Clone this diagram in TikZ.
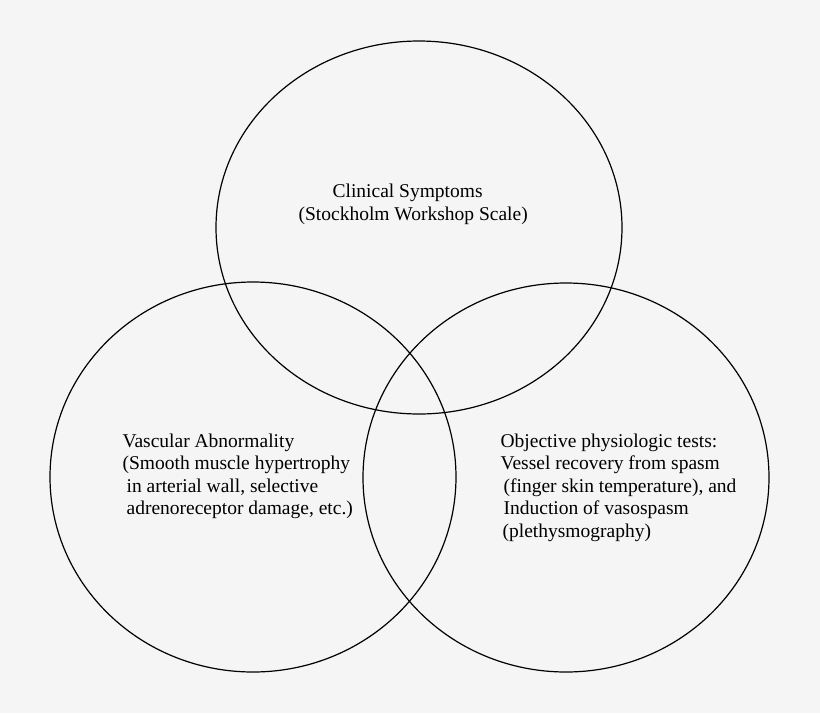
\documentclass[tikz,border=0pt]{standalone}
\usepackage{fontspec}
\setmainfont{Liberation Serif}
\usepackage{tikz}
\usetikzlibrary{positioning, shapes.geometric}
\definecolor{paper}{RGB}{245,245,245}

\begin{document}
\begin{tikzpicture}[x=1pt, y=-1pt, line width=1.2pt,
  set node/.style={ellipse,draw,inner sep=0pt,outer sep=0pt,minimum width=406pt},
  label node/.style={align=left,anchor=north west,inner sep=0pt,
    font=\fontsize{19.5}{22.5}\selectfont}]

\fill[paper] (0,0) rectangle (820,713);
\useasboundingbox (0,0) rectangle (820,713);

\node[set node, minimum height=373pt] (S) at (419,227.5) {};
\node[set node, minimum height=390pt] (V) at (253,477) {};
\node[set node, minimum height=389pt] (P) at (566,477.5) {};

\node[label node, font=\fontsize{19.5}{23}\selectfont] (s) at (298,183)
  {\hspace*{34pt}Clinical Symptoms\\(Stockholm Workshop Scale)};
\node[label node] (v) at (122,433)
  {Vascular Abnormality\\(Smooth muscle hypertrophy\\
   \hspace*{4pt}in arterial wall, selective\\
   \hspace*{4pt}adrenoreceptor damage, etc.)};
\node[label node] (p) at (500,433)
  {Objective physiologic tests:\\Vessel recovery from spasm\\
   \hspace*{3pt}(finger skin temperature), and\\
   \hspace*{3pt}Induction of vasospasm\\
   \hspace*{2pt}(plethysmography)};

\end{tikzpicture}
\end{document}
